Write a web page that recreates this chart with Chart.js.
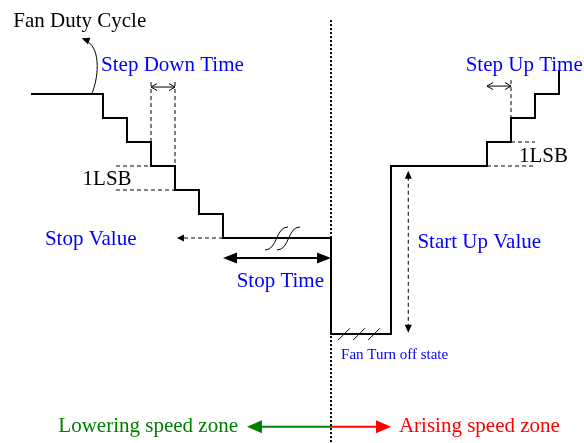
<!DOCTYPE html>
<html>
<head>
<meta charset="utf-8">
<script src="https://cdn.jsdelivr.net/npm/chart.js@4.4.1/dist/chart.umd.min.js"></script>
<style>
  html, body { margin: 0; padding: 0; background: #fff; }
  #wrap { width: 584px; height: 443px; }
</style>
</head>
<body>
<div id="wrap"><canvas id="fanChart" width="584" height="443"></canvas></div>
<script>
// =====================
// Data (time in step units, duty in LSB)
// =====================
const stepTimes  = [-3, 0, 1, 2, 3, 4, 5, 9.5, 12, 16, 17, 18, 19];
const dutyLevels = [10, 9, 8, 7, 6, 5, 4, 0,   7,  8,  9, 10, 11];

const stopValue = 4;
const stopTimeStart = 5;
const stopTimeEnd = 9.5;      // fan switched off here
const startUpValue = 7;
const zoneSplit = 9.5;

// labels: [text, t, v, color, size]
const labelTexts = [
  ["Fan Duty Cycle",      -3.74, 12.80, "#000000", 21],
  ["Step Down Time",      -0.08, 10.96, "#0000ff", 21],
  ["1LSB",                -0.85,  6.21, "#000000", 21],
  ["Stop Value",          -2.42,  3.71, "#0000ff", 21],
  ["Stop Time",            5.57,  1.95, "#0000ff", 21],
  ["Start Up Value",      13.10,  3.60, "#0000ff", 21],
  ["Step Up Time",        15.11, 10.96, "#0000ff", 21],
  ["1LSB",                17.33,  7.18, "#000000", 21],
  ["Fan Turn off state",   9.92, -1.05, "#0000ff", 15],
  ["Lowering speed zone", -1.86, -4.10, "#008000", 21],
  ["Arising speed zone",  12.33, -4.10, "#ff0000", 21]
];

// dashed guide lines: [t1, v1, t2, v2]
const guideLines = [
  [2, 10.5, 2, 7],
  [3, 10.5, 3, 6],
  [0.54, 7, 2, 7],
  [0.54, 6, 3, 6],
  [17, 10.58, 17, 9],
  [17, 8, 18, 8],
  [16, 7, 18, 7]
];

// =====================
// Drawing helpers
// =====================
function seg(ctx, x1, y1, x2, y2, color, width, dash) {
  ctx.save();
  ctx.strokeStyle = color;
  ctx.lineWidth = width;
  ctx.setLineDash(dash || []);
  ctx.beginPath();
  ctx.moveTo(x1, y1);
  ctx.lineTo(x2, y2);
  ctx.stroke();
  ctx.restore();
}

function head(ctx, x, y, ang, len, half, color, filled) {
  const bx = x - Math.cos(ang) * len, by = y - Math.sin(ang) * len;
  const px = -Math.sin(ang) * half, py = Math.cos(ang) * half;
  ctx.save();
  ctx.setLineDash([]);
  ctx.beginPath();
  ctx.moveTo(bx + px, by + py);
  ctx.lineTo(x, y);
  ctx.lineTo(bx - px, by - py);
  if (filled) {
    ctx.closePath();
    ctx.fillStyle = color;
    ctx.fill();
  } else {
    ctx.strokeStyle = color;
    ctx.lineWidth = 1;
    ctx.stroke();
  }
  ctx.restore();
}

const diagramPlugin = {
  id: "diagram",
  afterDatasetsDraw(chart) {
    const ctx = chart.ctx;
    const X = v => chart.scales.x.getPixelForValue(v);
    const Y = v => chart.scales.y.getPixelForValue(v);

    // zone divider
    seg(ctx, X(zoneSplit), Y(13.08), X(zoneSplit), chart.chartArea.bottom, "#000", 2, [2, 2]);

    // dashed guides
    guideLines.forEach(g => seg(ctx, X(g[0]), Y(g[1]), X(g[2]), Y(g[3]), "#000", 1, [4, 3]));

    // step time small arrows
    [[2, 3, 10.29], [16, 17, 10.33]].forEach(a => {
      seg(ctx, X(a[0]), Y(a[2]), X(a[1]), Y(a[2]), "#000", 1);
      head(ctx, X(a[0]), Y(a[2]), Math.PI, 6, 3.5, "#000", false);
      head(ctx, X(a[1]), Y(a[2]), 0, 6, 3.5, "#000", false);
    });

    // stop value pointer
    seg(ctx, X(stopTimeStart), Y(stopValue), X(3.08) + 5, Y(stopValue), "#000", 1, [4, 3]);
    head(ctx, X(3.08), Y(stopValue), Math.PI, 7, 3.5, "#000", true);

    // break mark on the stop level
    [[6.75, 7.71], [7.25, 8.21]].forEach(b => {
      const x1 = X(b[0]), y1 = Y(3.5), x2 = X(b[1]), y2 = Y(4.46);
      const dx = x2 - x1;
      ctx.save();
      ctx.strokeStyle = "#000";
      ctx.lineWidth = 1;
      ctx.beginPath();
      ctx.moveTo(x1, y1);
      ctx.bezierCurveTo(x1 + dx * 0.55, y1, x2 - dx * 0.55, y2, x2, y2);
      ctx.stroke();
      ctx.restore();
    });

    // stop time arrow
    const sy = Y(3.17);
    seg(ctx, X(stopTimeStart) + 10, sy, X(stopTimeEnd) - 10, sy, "#000", 2);
    head(ctx, X(stopTimeStart), sy, Math.PI, 14, 5.5, "#000", true);
    head(ctx, X(stopTimeEnd), sy, 0, 14, 5.5, "#000", true);

    // off-state hatch
    for (let k = 0; k < 3; k++) {
      const t0 = 9.80 + k * 0.625;
      seg(ctx, X(t0), Y(-0.25), X(t0 + 0.49), Y(0.24), "#000", 1);
    }

    // start up value arrow
    const ux = X(12.72);
    seg(ctx, ux, Y(startUpValue - 0.2) + 6, ux, Y(0.05) - 6, "#000", 1, [4, 3]);
    head(ctx, ux, Y(startUpValue - 0.2), -Math.PI / 2, 8, 3.5, "#000", true);
    head(ctx, ux, Y(0.05), Math.PI / 2, 8, 3.5, "#000", true);

    // curved pointer to the duty cycle axis label
    const p0 = [X(-0.47), Y(10)], c1 = [X(-0.125), Y(10.83)], c2 = [X(-0.125), Y(12.04)], p3 = [X(-0.89), Y(12.32)];
    ctx.save();
    ctx.strokeStyle = "#000";
    ctx.lineWidth = 1;
    ctx.beginPath();
    ctx.moveTo(p0[0], p0[1]);
    ctx.bezierCurveTo(c1[0], c1[1], c2[0], c2[1], p3[0] + 3, p3[1] + 2);
    ctx.stroke();
    ctx.restore();
    head(ctx, p3[0], p3[1], Math.atan2(p3[1] - c2[1], p3[0] - c2[0]), 8, 3.5, "#000", true);

    // speed zone arrows
    const zy = Y(-3.86);
    seg(ctx, X(zoneSplit), zy, X(6) + 12, zy, "#008000", 2);
    head(ctx, X(6), zy, Math.PI, 15, 6.5, "#008000", true);
    seg(ctx, X(zoneSplit), zy, X(12) - 12, zy, "#ff0000", 2);
    head(ctx, X(12), zy, 0, 15, 6.5, "#ff0000", true);

    // labels
    ctx.save();
    ctx.textAlign = "left";
    ctx.textBaseline = "alphabetic";
    labelTexts.forEach(l => {
      ctx.font = l[4] + 'px "Liberation Serif", "Times New Roman", serif';
      ctx.fillStyle = l[3];
      ctx.fillText(l[0], X(l[1]), Y(l[2]));
    });
    ctx.restore();
  }
};

// =====================
// Chart
// =====================
const fanChart = new Chart(document.getElementById("fanChart"), {
  type: "line",
  data: {
    datasets: [{
      label: "Fan Duty Cycle",
      data: stepTimes.map((t, i) => ({ x: t, y: dutyLevels[i] })),
      stepped: "before",   // horizontal run first, then the vertical step
      borderColor: "#000000",
      borderWidth: 2,
      pointRadius: 0,
      fill: false
    }]
  },
  options: {
    responsive: false,
    animation: false,
    devicePixelRatio: 1,
    layout: { padding: 0 },
    plugins: { legend: { display: false }, tooltip: { enabled: false } },
    scales: {
      x: { type: "linear", min: -103 / 24, max: (584 - 103) / 24, display: false },
      y: { type: "linear", min: (334 - 443) / 24, max: 334 / 24, display: false }
    }
  },
  plugins: [diagramPlugin]
});
</script>
</body>
</html>
